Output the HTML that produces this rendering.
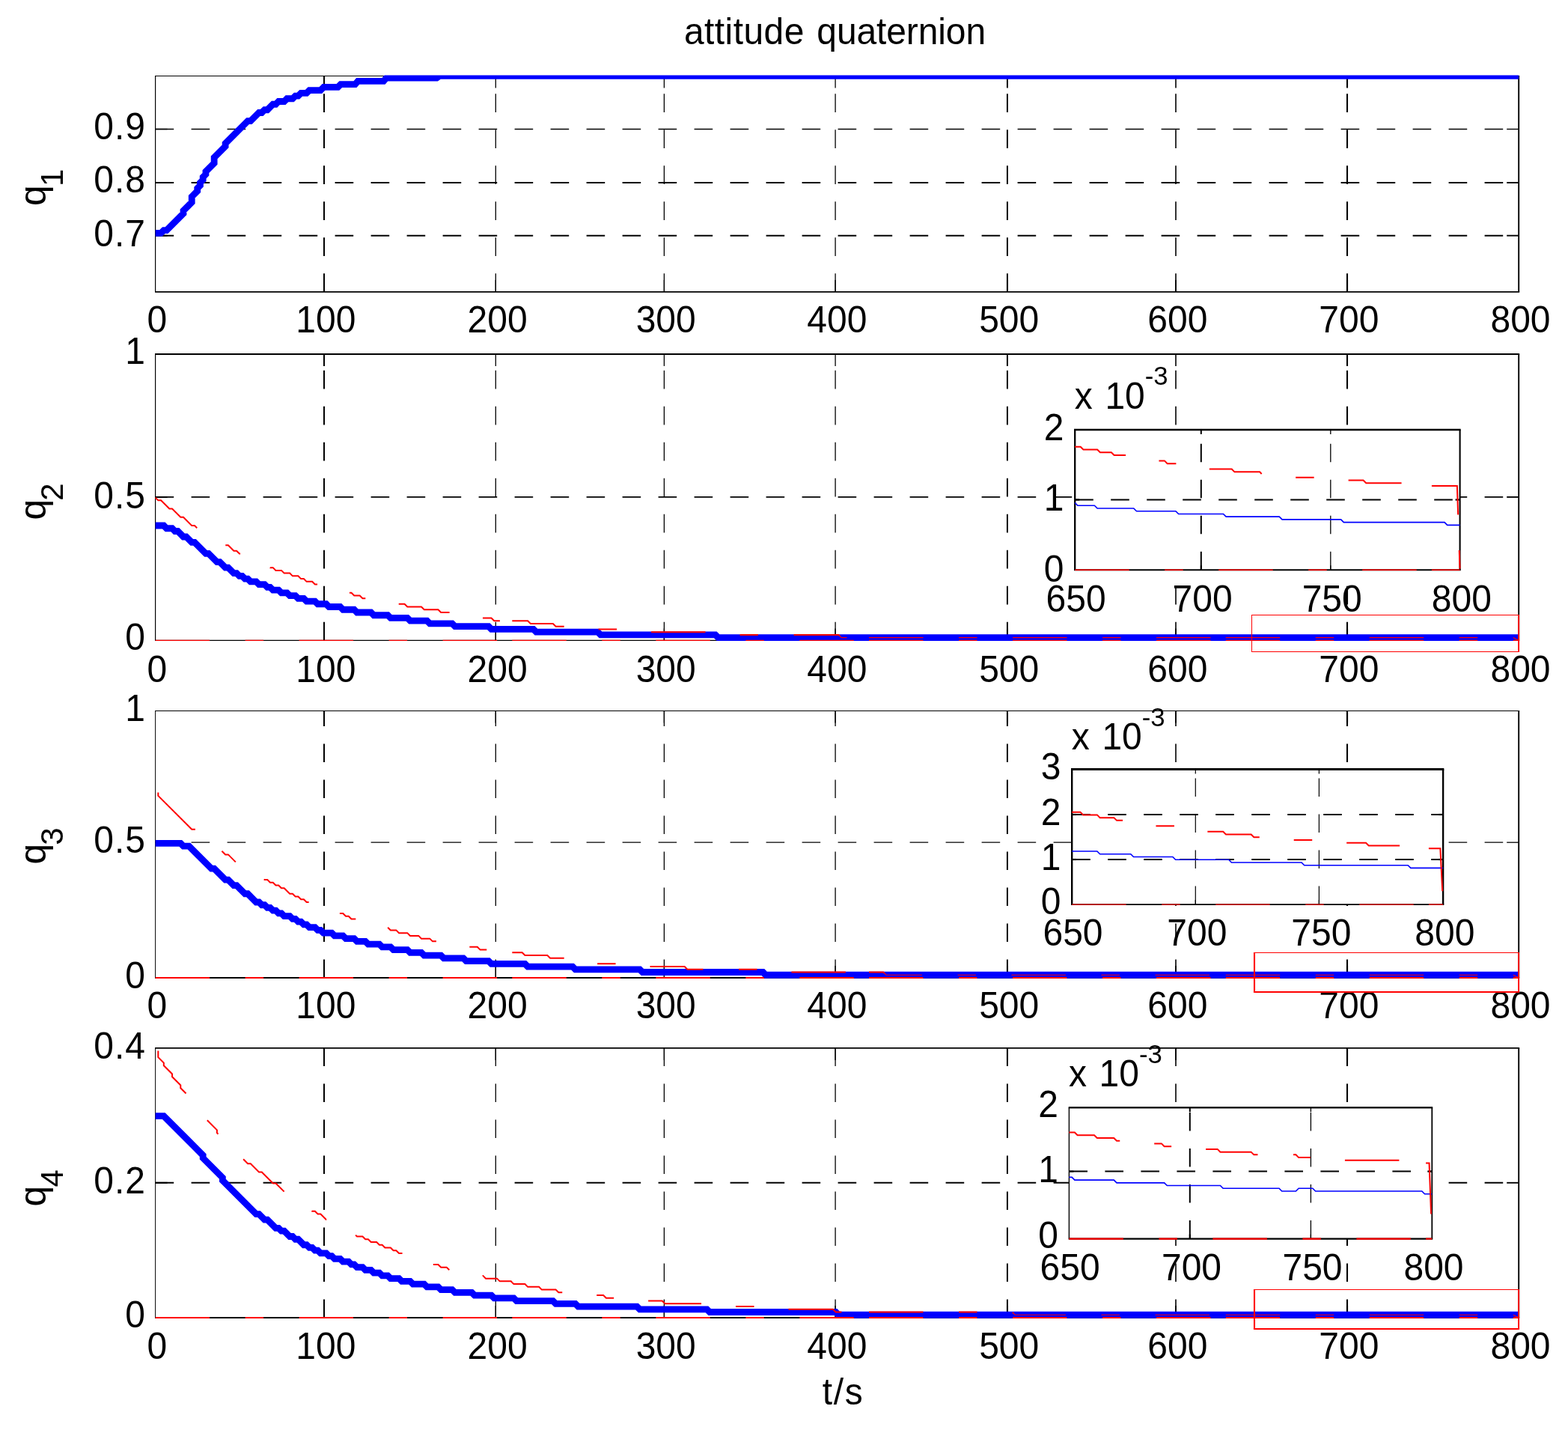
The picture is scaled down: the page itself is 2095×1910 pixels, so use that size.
<!DOCTYPE html>
<html lang="en">
<head>
<meta charset="utf-8">
<title>attitude quaternion</title>
<style>
html,body{margin:0;padding:0;background:#fff;}
body{width:2095px;height:1910px;overflow:hidden;}
svg{display:block;}
text{font-family:"Liberation Sans", Arial, Helvetica, sans-serif;}
</style>
</head>
<body>
<svg width="2095" height="1910" viewBox="0 0 2095 1910" font-family='"Liberation Sans", Arial, Helvetica, sans-serif' fill="#000" shape-rendering="geometricPrecision">
<rect width="2095" height="1910" fill="#fff"/>
<defs>
<clipPath id="c0"><rect x="206.6" y="100.5" width="1823.6" height="290.4"/></clipPath>
<clipPath id="cu0"><rect x="0" y="81.5" width="2095" height="302.79"/></clipPath>
<clipPath id="cl0"><rect x="0" y="384.29" width="2095" height="25.61"/></clipPath>
<clipPath id="c1"><rect x="206.6" y="471.95" width="1823.6" height="384.45"/></clipPath>
<clipPath id="cu1"><rect x="0" y="452.95" width="2095" height="396.84"/></clipPath>
<clipPath id="cl1"><rect x="0" y="849.79" width="2095" height="25.61"/></clipPath>
<clipPath id="ci1"><rect x="1435.2" y="572.9" width="516.4" height="189.4"/></clipPath>
<clipPath id="c2"><rect x="206.6" y="948.5" width="1823.6" height="358.5"/></clipPath>
<clipPath id="cu2"><rect x="0" y="929.5" width="2095" height="370.89"/></clipPath>
<clipPath id="cl2"><rect x="0" y="1300.39" width="2095" height="25.61"/></clipPath>
<clipPath id="ci2"><rect x="1431.2" y="1026.5" width="497.9" height="182.6"/></clipPath>
<clipPath id="c3"><rect x="206.6" y="1398.9" width="1823.6" height="362.1"/></clipPath>
<clipPath id="cu3"><rect x="0" y="1379.9" width="2095" height="374.49"/></clipPath>
<clipPath id="cl3"><rect x="0" y="1754.39" width="2095" height="25.61"/></clipPath>
<clipPath id="ci3"><rect x="1427.4" y="1478.3" width="486.9" height="177.3"/></clipPath>
</defs>
<text transform="translate(0 58.8) scale(0.964 1)" font-size="49.8"><tspan x="948.03" letter-spacing="0.45">attitude </tspan><tspan x="1132.05" letter-spacing="-0.12">quaternion</tspan></text>
<text transform="translate(1126.5 1875.9) scale(0.964 1)" font-size="49.8" text-anchor="middle" letter-spacing="1.7">t/s</text>
<g>
<line x1="433" y1="389.9" x2="433" y2="101.5" stroke="#000" stroke-width="2" stroke-dasharray="24.6 23.4"/>
<line x1="433" y1="101.5" x2="433" y2="117.5" stroke="#000" stroke-width="2"/>
<line x1="433" y1="389.9" x2="433" y2="373.9" stroke="#000" stroke-width="2"/>
<line x1="662.3" y1="389.9" x2="662.3" y2="101.5" stroke="#000" stroke-width="1.3" stroke-dasharray="24.6 23.4"/>
<line x1="662.3" y1="101.5" x2="662.3" y2="117.5" stroke="#000" stroke-width="1.3"/>
<line x1="662.3" y1="389.9" x2="662.3" y2="373.9" stroke="#000" stroke-width="1.3"/>
<line x1="887.4" y1="389.9" x2="887.4" y2="101.5" stroke="#000" stroke-width="1.3" stroke-dasharray="24.6 23.4"/>
<line x1="887.4" y1="101.5" x2="887.4" y2="117.5" stroke="#000" stroke-width="1.3"/>
<line x1="887.4" y1="389.9" x2="887.4" y2="373.9" stroke="#000" stroke-width="1.3"/>
<line x1="1116.1" y1="389.9" x2="1116.1" y2="101.5" stroke="#000" stroke-width="1.3" stroke-dasharray="24.6 23.4"/>
<line x1="1116.1" y1="101.5" x2="1116.1" y2="117.5" stroke="#000" stroke-width="1.3"/>
<line x1="1116.1" y1="389.9" x2="1116.1" y2="373.9" stroke="#000" stroke-width="1.3"/>
<line x1="1345.9" y1="389.9" x2="1345.9" y2="101.5" stroke="#000" stroke-width="1.9" stroke-dasharray="24.6 23.4"/>
<line x1="1345.9" y1="101.5" x2="1345.9" y2="117.5" stroke="#000" stroke-width="1.9"/>
<line x1="1345.9" y1="389.9" x2="1345.9" y2="373.9" stroke="#000" stroke-width="1.9"/>
<line x1="1571" y1="389.9" x2="1571" y2="101.5" stroke="#000" stroke-width="1.6" stroke-dasharray="24.6 23.4"/>
<line x1="1571" y1="101.5" x2="1571" y2="117.5" stroke="#000" stroke-width="1.6"/>
<line x1="1571" y1="389.9" x2="1571" y2="373.9" stroke="#000" stroke-width="1.6"/>
<line x1="1800" y1="389.9" x2="1800" y2="101.5" stroke="#000" stroke-width="2.1" stroke-dasharray="24.6 23.4"/>
<line x1="1800" y1="101.5" x2="1800" y2="117.5" stroke="#000" stroke-width="2.1"/>
<line x1="1800" y1="389.9" x2="1800" y2="373.9" stroke="#000" stroke-width="2.1"/>
<line x1="207.6" y1="172.5" x2="2029.2" y2="172.5" stroke="#000" stroke-width="1.4" stroke-dasharray="24.6 23.4"/>
<line x1="207.6" y1="172.5" x2="223.6" y2="172.5" stroke="#000" stroke-width="1.4"/>
<line x1="2029.2" y1="172.5" x2="2013.2" y2="172.5" stroke="#000" stroke-width="1.4"/>
<line x1="207.6" y1="244" x2="2029.2" y2="244" stroke="#000" stroke-width="1.9" stroke-dasharray="24.6 23.4"/>
<line x1="207.6" y1="244" x2="223.6" y2="244" stroke="#000" stroke-width="1.9"/>
<line x1="2029.2" y1="244" x2="2013.2" y2="244" stroke="#000" stroke-width="1.9"/>
<line x1="207.6" y1="314.7" x2="2029.2" y2="314.7" stroke="#000" stroke-width="1.9" stroke-dasharray="24.6 23.4"/>
<line x1="207.6" y1="314.7" x2="223.6" y2="314.7" stroke="#000" stroke-width="1.9"/>
<line x1="2029.2" y1="314.7" x2="2013.2" y2="314.7" stroke="#000" stroke-width="1.9"/>
<line x1="207" y1="101.5" x2="2030.15" y2="101.5" stroke="#000" stroke-width="1.2"/>
<line x1="207" y1="389.9" x2="2030.15" y2="389.9" stroke="#000" stroke-width="1.85"/>
<line x1="207.6" y1="101.5" x2="207.6" y2="389.9" stroke="#000" stroke-width="1.2"/>
<line x1="2029.2" y1="101.5" x2="2029.2" y2="389.9" stroke="#000" stroke-width="1.9"/>
<text transform="translate(209.9 444.2) scale(0.964 1)" font-size="49.8" text-anchor="middle">0</text>
<text transform="translate(435.3 444.2) scale(0.964 1)" font-size="49.8" text-anchor="middle">100</text>
<text transform="translate(664.6 444.2) scale(0.964 1)" font-size="49.8" text-anchor="middle">200</text>
<text transform="translate(889.7 444.2) scale(0.964 1)" font-size="49.8" text-anchor="middle">300</text>
<text transform="translate(1118.4 444.2) scale(0.964 1)" font-size="49.8" text-anchor="middle">400</text>
<text transform="translate(1348.2 444.2) scale(0.964 1)" font-size="49.8" text-anchor="middle">500</text>
<text transform="translate(1573.3 444.2) scale(0.964 1)" font-size="49.8" text-anchor="middle">600</text>
<text transform="translate(1802.3 444.2) scale(0.964 1)" font-size="49.8" text-anchor="middle">700</text>
<text transform="translate(2031.5 444.2) scale(0.964 1)" font-size="49.8" text-anchor="middle">800</text>
<text transform="translate(195.06 185.5) scale(0.964 1)" font-size="49.8" text-anchor="end" letter-spacing="1.1">0.9</text>
<text transform="translate(195.06 257.2) scale(0.964 1)" font-size="49.8" text-anchor="end" letter-spacing="1.1">0.8</text>
<text transform="translate(195.06 328.6) scale(0.964 1)" font-size="49.8" text-anchor="end" letter-spacing="1.1">0.7</text>
<text transform="translate(60.5 275) rotate(-90)" font-size="49.8">q<tspan dx="-1.8" dy="23.6" font-size="42">1</tspan></text>
<path d="M207.6 311.34 L215.08 311.34 L218.82 307.6 L222.56 307.6 L245.01 285.15 L245.01 281.41 L256.23 270.19 L256.23 262.71 L263.71 255.22 L263.71 251.48 L267.46 247.74 L267.46 244 L271.2 240.26 L271.2 236.52 L274.94 232.78 L274.94 229.04 L286.16 217.81 L286.16 210.33 L301.12 195.37 L301.12 191.63 L331.05 161.7 L334.79 161.7 L346.02 150.48 L349.76 150.48 L353.5 146.73 L357.24 146.73 L364.72 139.25 L368.46 139.25 L372.2 135.51 L379.69 135.51 L383.43 131.77 L390.91 131.77 L394.65 128.03 L398.39 128.03 L402.13 124.29 L409.61 124.29 L413.36 120.55 L428.32 120.55 L432.06 116.81 L432.5 116.3 L451.5 116.3 L455.2 112.6 L474.5 112.6 L478.2 108.4 L512.5 108.4 L516.2 104.1 L583.5 104.1 L587.2 101.4 L2029.2 101.4" fill="none" stroke="#00f" stroke-width="8.8" stroke-linejoin="miter" clip-path="url(#c0)"/>
</g>
<g>
<line x1="433" y1="855.4" x2="433" y2="472.95" stroke="#000" stroke-width="2" stroke-dasharray="24.6 23.4"/>
<line x1="433" y1="472.95" x2="433" y2="488.95" stroke="#000" stroke-width="2"/>
<line x1="433" y1="855.4" x2="433" y2="839.4" stroke="#000" stroke-width="2"/>
<line x1="662.3" y1="855.4" x2="662.3" y2="472.95" stroke="#000" stroke-width="1.3" stroke-dasharray="24.6 23.4"/>
<line x1="662.3" y1="472.95" x2="662.3" y2="488.95" stroke="#000" stroke-width="1.3"/>
<line x1="662.3" y1="855.4" x2="662.3" y2="839.4" stroke="#000" stroke-width="1.3"/>
<line x1="887.4" y1="855.4" x2="887.4" y2="472.95" stroke="#000" stroke-width="1.3" stroke-dasharray="24.6 23.4"/>
<line x1="887.4" y1="472.95" x2="887.4" y2="488.95" stroke="#000" stroke-width="1.3"/>
<line x1="887.4" y1="855.4" x2="887.4" y2="839.4" stroke="#000" stroke-width="1.3"/>
<line x1="1116.1" y1="855.4" x2="1116.1" y2="472.95" stroke="#000" stroke-width="1.3" stroke-dasharray="24.6 23.4"/>
<line x1="1116.1" y1="472.95" x2="1116.1" y2="488.95" stroke="#000" stroke-width="1.3"/>
<line x1="1116.1" y1="855.4" x2="1116.1" y2="839.4" stroke="#000" stroke-width="1.3"/>
<line x1="1345.9" y1="855.4" x2="1345.9" y2="472.95" stroke="#000" stroke-width="1.9" stroke-dasharray="24.6 23.4"/>
<line x1="1345.9" y1="472.95" x2="1345.9" y2="488.95" stroke="#000" stroke-width="1.9"/>
<line x1="1345.9" y1="855.4" x2="1345.9" y2="839.4" stroke="#000" stroke-width="1.9"/>
<line x1="1571" y1="855.4" x2="1571" y2="472.95" stroke="#000" stroke-width="1.6" stroke-dasharray="24.6 23.4"/>
<line x1="1571" y1="472.95" x2="1571" y2="488.95" stroke="#000" stroke-width="1.6"/>
<line x1="1571" y1="855.4" x2="1571" y2="839.4" stroke="#000" stroke-width="1.6"/>
<line x1="1800" y1="855.4" x2="1800" y2="472.95" stroke="#000" stroke-width="2.1" stroke-dasharray="24.6 23.4"/>
<line x1="1800" y1="472.95" x2="1800" y2="488.95" stroke="#000" stroke-width="2.1"/>
<line x1="1800" y1="855.4" x2="1800" y2="839.4" stroke="#000" stroke-width="2.1"/>
<line x1="207.6" y1="663.9" x2="2029.2" y2="663.9" stroke="#000" stroke-width="1.9" stroke-dasharray="24.6 23.4"/>
<line x1="207.6" y1="663.9" x2="223.6" y2="663.9" stroke="#000" stroke-width="1.9"/>
<line x1="2029.2" y1="663.9" x2="2013.2" y2="663.9" stroke="#000" stroke-width="1.9"/>
<line x1="207" y1="472.95" x2="2030.15" y2="472.95" stroke="#000" stroke-width="2"/>
<line x1="207" y1="855.4" x2="2030.15" y2="855.4" stroke="#000" stroke-width="1.3"/>
<line x1="207.6" y1="472.95" x2="207.6" y2="855.4" stroke="#000" stroke-width="1.2"/>
<line x1="2029.2" y1="472.95" x2="2029.2" y2="855.4" stroke="#000" stroke-width="1.9"/>
<text transform="translate(209.9 910.5) scale(0.964 1)" font-size="49.8" text-anchor="middle">0</text>
<text transform="translate(435.3 910.5) scale(0.964 1)" font-size="49.8" text-anchor="middle">100</text>
<text transform="translate(664.6 910.5) scale(0.964 1)" font-size="49.8" text-anchor="middle">200</text>
<text transform="translate(889.7 910.5) scale(0.964 1)" font-size="49.8" text-anchor="middle">300</text>
<text transform="translate(1118.4 910.5) scale(0.964 1)" font-size="49.8" text-anchor="middle">400</text>
<text transform="translate(1348.2 910.5) scale(0.964 1)" font-size="49.8" text-anchor="middle">500</text>
<text transform="translate(1573.3 910.5) scale(0.964 1)" font-size="49.8" text-anchor="middle">600</text>
<text transform="translate(1802.3 910.5) scale(0.964 1)" font-size="49.8" text-anchor="middle">700</text>
<text transform="translate(2031.5 910.5) scale(0.964 1)" font-size="49.8" text-anchor="middle">800</text>
<text transform="translate(194 486.2) scale(0.964 1)" font-size="49.8" text-anchor="end">1</text>
<text transform="translate(195.06 678.6) scale(0.964 1)" font-size="49.8" text-anchor="end" letter-spacing="1.1">0.5</text>
<text transform="translate(194 868.3) scale(0.964 1)" font-size="49.8" text-anchor="end">0</text>
<text transform="translate(60.5 694.6) rotate(-90)" font-size="49.8">q<tspan dx="-1.8" dy="23.6" font-size="42">2</tspan></text>
<path d="M207.6 702.02 L218.82 702.02 L222.56 705.76 L230.05 705.76 L233.79 709.5 L237.53 709.5 L245.01 716.98 L248.75 716.98 L256.23 724.46 L259.97 724.46 L274.94 739.43 L278.68 739.43 L289.9 750.65 L293.64 750.65 L301.12 758.13 L304.87 758.13 L312.35 765.62 L316.09 765.62 L319.83 769.36 L323.57 769.36 L327.31 773.1 L331.05 773.1 L334.79 776.84 L342.28 776.84 L346.02 780.58 L353.5 780.58 L357.24 784.32 L360.98 784.32 L364.72 788.06 L372.2 788.06 L375.94 791.8 L383.43 791.8 L387.17 795.54 L394.65 795.54 L398.39 799.28 L405.87 799.28 L409.61 803.03 L420.84 803.03 L424.58 806.77 L435.8 806.77 L439.54 810.51 L454.51 810.51 L458.25 814.25 L473.21 814.25 L476.95 817.99 L495.66 817.99 L499.4 821.73 L518.1 821.73 L521.84 825.47 L544.29 825.47 L548.03 829.21 L570.48 829.21 L574.22 832.95 L604.15 832.95 L607.89 836.69 L652.78 836.69 L656.52 840.44 L712.63 840.44 L716.38 844.18 L798.68 844.18 L802.42 847.92 L955.8 847.92 L959.54 851.66 L2029.2 851.66" fill="none" stroke="#00f" stroke-width="8.8" stroke-linejoin="miter" clip-path="url(#c1)"/>
<line x1="207.6" y1="855.4" x2="684.3" y2="855.4" stroke="#f00" stroke-width="1.3" stroke-dasharray="72.5 47.5 24.5 47.5"/>
<line x1="684.3" y1="855.4" x2="1161" y2="855.4" stroke="#f00" stroke-width="1.3" stroke-dasharray="72.5 47.5 24.5 47.5"/>
<line x1="1161" y1="855.4" x2="1637.7" y2="855.4" stroke="#f00" stroke-width="1.3" stroke-dasharray="72.5 47.5 24.5 47.5"/>
<line x1="1637.7" y1="855.4" x2="2029.2" y2="855.4" stroke="#f00" stroke-width="1.3" stroke-dasharray="72.5 47.5 24.5 47.5"/>
<path d="M207.6 664.61 L211.34 668.35 L215.08 668.35 L226.31 679.57 L230.05 679.57 L241.27 690.8 L245.01 690.8 L256.23 702.02 L259.97 702.02 L267.46 709.5 L271.2 709.5 L274.94 713.24 L278.68 713.24 L282.42 716.98 L286.16 716.98 L293.64 724.46 L297.38 724.46 L301.12 728.21 L304.87 728.21 L312.35 735.69 L316.09 735.69 L319.83 739.43 L323.57 739.43 L327.31 743.17 L331.05 743.17 L334.79 746.91 L338.53 746.91 L342.28 750.65 L346.02 750.65 L349.76 754.39 L357.24 754.39 L360.98 758.13 L364.72 758.13 L368.46 761.88 L375.94 761.88 L379.69 765.62 L387.17 765.62 L390.91 769.36 L398.39 769.36 L402.13 773.1 L405.87 773.1 L409.61 776.84 L417.1 776.84 L420.84 780.58 L428.32 780.58 L432.06 784.32 L443.28 784.32 L447.02 788.06 L458.25 788.06 L461.99 791.8 L469.47 791.8 L473.21 795.54 L480.69 795.54 L484.43 799.28 L499.4 799.28 L503.14 803.03 L518.1 803.03 L521.84 806.77 L540.55 806.77 L544.29 810.51 L563 810.51 L566.74 814.25 L585.44 814.25 L589.18 817.99 L607.89 817.99 L611.63 821.73 L634.07 821.73 L637.82 825.47 L656.52 825.47 L660.26 829.21 L684.3 829.21" fill="none" stroke="#f00" stroke-width="2" stroke-dasharray="72.5 47.5 24.5 47.5" clip-path="url(#cu1)"/>
<path d="M207.6 664.61 L211.34 668.35 L215.08 668.35 L226.31 679.57 L230.05 679.57 L241.27 690.8 L245.01 690.8 L256.23 702.02 L259.97 702.02 L267.46 709.5 L271.2 709.5 L274.94 713.24 L278.68 713.24 L282.42 716.98 L286.16 716.98 L293.64 724.46 L297.38 724.46 L301.12 728.21 L304.87 728.21 L312.35 735.69 L316.09 735.69 L319.83 739.43 L323.57 739.43 L327.31 743.17 L331.05 743.17 L334.79 746.91 L338.53 746.91 L342.28 750.65 L346.02 750.65 L349.76 754.39 L357.24 754.39 L360.98 758.13 L364.72 758.13 L368.46 761.88 L375.94 761.88 L379.69 765.62 L387.17 765.62 L390.91 769.36 L398.39 769.36 L402.13 773.1 L405.87 773.1 L409.61 776.84 L417.1 776.84 L420.84 780.58 L428.32 780.58 L432.06 784.32 L443.28 784.32 L447.02 788.06 L458.25 788.06 L461.99 791.8 L469.47 791.8 L473.21 795.54 L480.69 795.54 L484.43 799.28 L499.4 799.28 L503.14 803.03 L518.1 803.03 L521.84 806.77 L540.55 806.77 L544.29 810.51 L563 810.51 L566.74 814.25 L585.44 814.25 L589.18 817.99 L607.89 817.99 L611.63 821.73 L634.07 821.73 L637.82 825.47 L656.52 825.47 L660.26 829.21 L684.3 829.21" fill="none" stroke="#f00" stroke-width="1.1" stroke-dasharray="72.5 47.5 24.5 47.5" clip-path="url(#cl1)"/>
<path d="M684.3 829.21 L705.15 829.21 L708.89 832.95 L738.82 832.95 L742.56 836.69 L776.23 836.69 L779.97 840.44 L843.57 840.44 L847.31 844.18 L963.28 844.18 L967.02 847.92 L1120.4 847.92 L1124.14 851.66 L1161 851.66" fill="none" stroke="#f00" stroke-width="2" stroke-dasharray="72.5 47.5 24.5 47.5" clip-path="url(#cu1)"/>
<path d="M684.3 829.21 L705.15 829.21 L708.89 832.95 L738.82 832.95 L742.56 836.69 L776.23 836.69 L779.97 840.44 L843.57 840.44 L847.31 844.18 L963.28 844.18 L967.02 847.92 L1120.4 847.92 L1124.14 851.66 L1161 851.66" fill="none" stroke="#f00" stroke-width="1.1" stroke-dasharray="72.5 47.5 24.5 47.5" clip-path="url(#cl1)"/>
<path d="M1161 851.66 L1637.7 851.66" fill="none" stroke="#f00" stroke-width="2" stroke-dasharray="72.5 47.5 24.5 47.5" clip-path="url(#cu1)"/>
<path d="M1161 851.66 L1637.7 851.66" fill="none" stroke="#f00" stroke-width="1.1" stroke-dasharray="72.5 47.5 24.5 47.5" clip-path="url(#cl1)"/>
<path d="M1637.7 851.66 L2021.98 851.66 L2029.2 855.4" fill="none" stroke="#f00" stroke-width="2" stroke-dasharray="72.5 47.5 24.5 47.5" clip-path="url(#cu1)"/>
<path d="M1637.7 851.66 L2021.98 851.66 L2029.2 855.4" fill="none" stroke="#f00" stroke-width="1.1" stroke-dasharray="72.5 47.5 24.5 47.5" clip-path="url(#cl1)"/>
</g>
<g>
<line x1="433" y1="1306" x2="433" y2="949.5" stroke="#000" stroke-width="2" stroke-dasharray="24.6 23.4"/>
<line x1="433" y1="949.5" x2="433" y2="965.5" stroke="#000" stroke-width="2"/>
<line x1="433" y1="1306" x2="433" y2="1290" stroke="#000" stroke-width="2"/>
<line x1="662.3" y1="1306" x2="662.3" y2="949.5" stroke="#000" stroke-width="1.3" stroke-dasharray="24.6 23.4"/>
<line x1="662.3" y1="949.5" x2="662.3" y2="965.5" stroke="#000" stroke-width="1.3"/>
<line x1="662.3" y1="1306" x2="662.3" y2="1290" stroke="#000" stroke-width="1.3"/>
<line x1="887.4" y1="1306" x2="887.4" y2="949.5" stroke="#000" stroke-width="1.3" stroke-dasharray="24.6 23.4"/>
<line x1="887.4" y1="949.5" x2="887.4" y2="965.5" stroke="#000" stroke-width="1.3"/>
<line x1="887.4" y1="1306" x2="887.4" y2="1290" stroke="#000" stroke-width="1.3"/>
<line x1="1116.1" y1="1306" x2="1116.1" y2="949.5" stroke="#000" stroke-width="1.3" stroke-dasharray="24.6 23.4"/>
<line x1="1116.1" y1="949.5" x2="1116.1" y2="965.5" stroke="#000" stroke-width="1.3"/>
<line x1="1116.1" y1="1306" x2="1116.1" y2="1290" stroke="#000" stroke-width="1.3"/>
<line x1="1345.9" y1="1306" x2="1345.9" y2="949.5" stroke="#000" stroke-width="1.9" stroke-dasharray="24.6 23.4"/>
<line x1="1345.9" y1="949.5" x2="1345.9" y2="965.5" stroke="#000" stroke-width="1.9"/>
<line x1="1345.9" y1="1306" x2="1345.9" y2="1290" stroke="#000" stroke-width="1.9"/>
<line x1="1571" y1="1306" x2="1571" y2="949.5" stroke="#000" stroke-width="1.6" stroke-dasharray="24.6 23.4"/>
<line x1="1571" y1="949.5" x2="1571" y2="965.5" stroke="#000" stroke-width="1.6"/>
<line x1="1571" y1="1306" x2="1571" y2="1290" stroke="#000" stroke-width="1.6"/>
<line x1="1800" y1="1306" x2="1800" y2="949.5" stroke="#000" stroke-width="2.1" stroke-dasharray="24.6 23.4"/>
<line x1="1800" y1="949.5" x2="1800" y2="965.5" stroke="#000" stroke-width="2.1"/>
<line x1="1800" y1="1306" x2="1800" y2="1290" stroke="#000" stroke-width="2.1"/>
<line x1="207.6" y1="1125.2" x2="2029.2" y2="1125.2" stroke="#000" stroke-width="1.3" stroke-dasharray="24.6 23.4"/>
<line x1="207.6" y1="1125.2" x2="223.6" y2="1125.2" stroke="#000" stroke-width="1.3"/>
<line x1="2029.2" y1="1125.2" x2="2013.2" y2="1125.2" stroke="#000" stroke-width="1.3"/>
<line x1="207.1" y1="949.5" x2="2030.15" y2="949.5" stroke="#000" stroke-width="1.2"/>
<line x1="207.1" y1="1306" x2="2030.15" y2="1306" stroke="#000" stroke-width="2.1"/>
<line x1="207.6" y1="949.5" x2="207.6" y2="1306" stroke="#000" stroke-width="1"/>
<line x1="2029.2" y1="949.5" x2="2029.2" y2="1306" stroke="#000" stroke-width="1.9"/>
<text transform="translate(209.9 1359.7) scale(0.964 1)" font-size="49.8" text-anchor="middle">0</text>
<text transform="translate(435.3 1359.7) scale(0.964 1)" font-size="49.8" text-anchor="middle">100</text>
<text transform="translate(664.6 1359.7) scale(0.964 1)" font-size="49.8" text-anchor="middle">200</text>
<text transform="translate(889.7 1359.7) scale(0.964 1)" font-size="49.8" text-anchor="middle">300</text>
<text transform="translate(1118.4 1359.7) scale(0.964 1)" font-size="49.8" text-anchor="middle">400</text>
<text transform="translate(1348.2 1359.7) scale(0.964 1)" font-size="49.8" text-anchor="middle">500</text>
<text transform="translate(1573.3 1359.7) scale(0.964 1)" font-size="49.8" text-anchor="middle">600</text>
<text transform="translate(1802.3 1359.7) scale(0.964 1)" font-size="49.8" text-anchor="middle">700</text>
<text transform="translate(2031.5 1359.7) scale(0.964 1)" font-size="49.8" text-anchor="middle">800</text>
<text transform="translate(194 962.9) scale(0.964 1)" font-size="49.8" text-anchor="end">1</text>
<text transform="translate(195.06 1139.4) scale(0.964 1)" font-size="49.8" text-anchor="end" letter-spacing="1.1">0.5</text>
<text transform="translate(194 1319.5) scale(0.964 1)" font-size="49.8" text-anchor="end">0</text>
<text transform="translate(60.5 1154.6) rotate(-90)" font-size="49.8">q<tspan dx="-1.8" dy="23.6" font-size="42">3</tspan></text>
<path d="M207.6 1126.43 L241.27 1126.43 L245.01 1130.17 L252.49 1130.17 L282.42 1160.1 L286.16 1160.1 L301.12 1175.07 L304.87 1175.07 L312.35 1182.55 L316.09 1182.55 L327.31 1193.77 L331.05 1193.77 L342.28 1204.99 L346.02 1204.99 L349.76 1208.73 L353.5 1208.73 L357.24 1212.47 L360.98 1212.47 L364.72 1216.22 L368.46 1216.22 L372.2 1219.96 L375.94 1219.96 L379.69 1223.7 L387.17 1223.7 L390.91 1227.44 L394.65 1227.44 L398.39 1231.18 L402.13 1231.18 L405.87 1234.92 L409.61 1234.92 L413.36 1238.66 L420.84 1238.66 L424.58 1242.4 L428.32 1242.4 L432.06 1246.14 L443.28 1246.14 L447.02 1249.88 L458.25 1249.88 L461.99 1253.63 L473.21 1253.63 L476.95 1257.37 L488.17 1257.37 L491.92 1261.11 L506.88 1261.11 L510.62 1264.85 L521.84 1264.85 L525.59 1268.59 L544.29 1268.59 L548.03 1272.33 L563 1272.33 L566.74 1276.07 L589.18 1276.07 L592.92 1279.81 L619.11 1279.81 L622.85 1283.55 L652.78 1283.55 L656.52 1287.3 L701.41 1287.3 L705.15 1291.04 L765.01 1291.04 L768.75 1294.78 L854.79 1294.78 L858.53 1298.52 L1019.4 1298.52 L1023.14 1302.26 L2029.2 1302.26" fill="none" stroke="#00f" stroke-width="8.8" stroke-linejoin="miter" clip-path="url(#c2)"/>
<line x1="207.6" y1="1306" x2="684.3" y2="1306" stroke="#f00" stroke-width="1.9" stroke-dasharray="72.5 47.5 24.5 47.5"/>
<line x1="684.3" y1="1306" x2="1161" y2="1306" stroke="#f00" stroke-width="1.9" stroke-dasharray="72.5 47.5 24.5 47.5"/>
<line x1="1161" y1="1306" x2="1637.7" y2="1306" stroke="#f00" stroke-width="1.9" stroke-dasharray="72.5 47.5 24.5 47.5"/>
<line x1="1637.7" y1="1306" x2="2029.2" y2="1306" stroke="#f00" stroke-width="1.9" stroke-dasharray="72.5 47.5 24.5 47.5"/>
<path d="M211.34 1058.5 L211.34 1062.84 L256.23 1107.73 L263.71 1107.73 L282.42 1126.43 L286.16 1126.43 L301.12 1141.4 L304.87 1141.4 L316.09 1152.62 L319.83 1152.62 L323.57 1156.36 L327.31 1156.36 L334.79 1163.84 L338.53 1163.84 L342.28 1167.58 L346.02 1167.58 L353.5 1175.07 L357.24 1175.07 L360.98 1178.81 L364.72 1178.81 L368.46 1182.55 L372.2 1182.55 L375.94 1186.29 L379.69 1186.29 L387.17 1193.77 L390.91 1193.77 L394.65 1197.51 L398.39 1197.51 L402.13 1201.25 L405.87 1201.25 L409.61 1204.99 L413.36 1204.99 L417.1 1208.73 L424.58 1208.73 L428.32 1212.47 L435.8 1212.47 L439.54 1216.22 L447.02 1216.22 L450.76 1219.96 L458.25 1219.96 L461.99 1223.7 L465.73 1223.7 L469.47 1227.44 L476.95 1227.44 L480.69 1231.18 L491.92 1231.18 L495.66 1234.92 L503.14 1234.92 L506.88 1238.66 L518.1 1238.66 L521.84 1242.4 L529.33 1242.4 L533.07 1246.14 L544.29 1246.14 L548.03 1249.88 L559.25 1249.88 L563 1253.63 L574.22 1253.63 L577.96 1257.37 L592.92 1257.37 L596.66 1261.11 L615.37 1261.11 L619.11 1264.85 L637.82 1264.85 L641.56 1268.59 L667.74 1268.59 L671.48 1272.33 L684.3 1272.33" fill="none" stroke="#f00" stroke-width="2" stroke-dasharray="72.5 47.5 24.5 47.5" clip-path="url(#cu2)"/>
<path d="M211.34 1058.5 L211.34 1062.84 L256.23 1107.73 L263.71 1107.73 L282.42 1126.43 L286.16 1126.43 L301.12 1141.4 L304.87 1141.4 L316.09 1152.62 L319.83 1152.62 L323.57 1156.36 L327.31 1156.36 L334.79 1163.84 L338.53 1163.84 L342.28 1167.58 L346.02 1167.58 L353.5 1175.07 L357.24 1175.07 L360.98 1178.81 L364.72 1178.81 L368.46 1182.55 L372.2 1182.55 L375.94 1186.29 L379.69 1186.29 L387.17 1193.77 L390.91 1193.77 L394.65 1197.51 L398.39 1197.51 L402.13 1201.25 L405.87 1201.25 L409.61 1204.99 L413.36 1204.99 L417.1 1208.73 L424.58 1208.73 L428.32 1212.47 L435.8 1212.47 L439.54 1216.22 L447.02 1216.22 L450.76 1219.96 L458.25 1219.96 L461.99 1223.7 L465.73 1223.7 L469.47 1227.44 L476.95 1227.44 L480.69 1231.18 L491.92 1231.18 L495.66 1234.92 L503.14 1234.92 L506.88 1238.66 L518.1 1238.66 L521.84 1242.4 L529.33 1242.4 L533.07 1246.14 L544.29 1246.14 L548.03 1249.88 L559.25 1249.88 L563 1253.63 L574.22 1253.63 L577.96 1257.37 L592.92 1257.37 L596.66 1261.11 L615.37 1261.11 L619.11 1264.85 L637.82 1264.85 L641.56 1268.59 L667.74 1268.59 L671.48 1272.33 L684.3 1272.33" fill="none" stroke="#f00" stroke-width="1.1" stroke-dasharray="72.5 47.5 24.5 47.5" clip-path="url(#cl2)"/>
<path d="M684.3 1272.33 L697.67 1272.33 L701.41 1276.07 L731.34 1276.07 L735.08 1279.81 L761.27 1279.81 L765.01 1283.55 L783.71 1283.55 L787.46 1287.3 L843.57 1287.3 L847.31 1291.04 L914.65 1291.04 L918.39 1294.78 L1041.84 1294.78 L1045.58 1298.52 L1161 1298.52" fill="none" stroke="#f00" stroke-width="2" stroke-dasharray="72.5 47.5 24.5 47.5" clip-path="url(#cu2)"/>
<path d="M684.3 1272.33 L697.67 1272.33 L701.41 1276.07 L731.34 1276.07 L735.08 1279.81 L761.27 1279.81 L765.01 1283.55 L783.71 1283.55 L787.46 1287.3 L843.57 1287.3 L847.31 1291.04 L914.65 1291.04 L918.39 1294.78 L1041.84 1294.78 L1045.58 1298.52 L1161 1298.52" fill="none" stroke="#f00" stroke-width="1.1" stroke-dasharray="72.5 47.5 24.5 47.5" clip-path="url(#cl2)"/>
<path d="M1161 1298.52 L1180.26 1298.52 L1184 1302.26 L1637.7 1302.26" fill="none" stroke="#f00" stroke-width="2" stroke-dasharray="72.5 47.5 24.5 47.5" clip-path="url(#cu2)"/>
<path d="M1161 1298.52 L1180.26 1298.52 L1184 1302.26 L1637.7 1302.26" fill="none" stroke="#f00" stroke-width="1.1" stroke-dasharray="72.5 47.5 24.5 47.5" clip-path="url(#cl2)"/>
<path d="M1637.7 1302.26 L2021.98 1302.26 L2029.2 1306" fill="none" stroke="#f00" stroke-width="2" stroke-dasharray="72.5 47.5 24.5 47.5" clip-path="url(#cu2)"/>
<path d="M1637.7 1302.26 L2021.98 1302.26 L2029.2 1306" fill="none" stroke="#f00" stroke-width="1.1" stroke-dasharray="72.5 47.5 24.5 47.5" clip-path="url(#cl2)"/>
</g>
<g>
<line x1="433" y1="1760" x2="433" y2="1399.9" stroke="#000" stroke-width="2" stroke-dasharray="24.6 23.4"/>
<line x1="433" y1="1399.9" x2="433" y2="1415.9" stroke="#000" stroke-width="2"/>
<line x1="433" y1="1760" x2="433" y2="1744" stroke="#000" stroke-width="2"/>
<line x1="662.3" y1="1760" x2="662.3" y2="1399.9" stroke="#000" stroke-width="1.3" stroke-dasharray="24.6 23.4"/>
<line x1="662.3" y1="1399.9" x2="662.3" y2="1415.9" stroke="#000" stroke-width="1.3"/>
<line x1="662.3" y1="1760" x2="662.3" y2="1744" stroke="#000" stroke-width="1.3"/>
<line x1="887.4" y1="1760" x2="887.4" y2="1399.9" stroke="#000" stroke-width="1.3" stroke-dasharray="24.6 23.4"/>
<line x1="887.4" y1="1399.9" x2="887.4" y2="1415.9" stroke="#000" stroke-width="1.3"/>
<line x1="887.4" y1="1760" x2="887.4" y2="1744" stroke="#000" stroke-width="1.3"/>
<line x1="1116.1" y1="1760" x2="1116.1" y2="1399.9" stroke="#000" stroke-width="1.3" stroke-dasharray="24.6 23.4"/>
<line x1="1116.1" y1="1399.9" x2="1116.1" y2="1415.9" stroke="#000" stroke-width="1.3"/>
<line x1="1116.1" y1="1760" x2="1116.1" y2="1744" stroke="#000" stroke-width="1.3"/>
<line x1="1345.9" y1="1760" x2="1345.9" y2="1399.9" stroke="#000" stroke-width="1.9" stroke-dasharray="24.6 23.4"/>
<line x1="1345.9" y1="1399.9" x2="1345.9" y2="1415.9" stroke="#000" stroke-width="1.9"/>
<line x1="1345.9" y1="1760" x2="1345.9" y2="1744" stroke="#000" stroke-width="1.9"/>
<line x1="1571" y1="1760" x2="1571" y2="1399.9" stroke="#000" stroke-width="1.6" stroke-dasharray="24.6 23.4"/>
<line x1="1571" y1="1399.9" x2="1571" y2="1415.9" stroke="#000" stroke-width="1.6"/>
<line x1="1571" y1="1760" x2="1571" y2="1744" stroke="#000" stroke-width="1.6"/>
<line x1="1800" y1="1760" x2="1800" y2="1399.9" stroke="#000" stroke-width="2.1" stroke-dasharray="24.6 23.4"/>
<line x1="1800" y1="1399.9" x2="1800" y2="1415.9" stroke="#000" stroke-width="2.1"/>
<line x1="1800" y1="1760" x2="1800" y2="1744" stroke="#000" stroke-width="2.1"/>
<line x1="207.6" y1="1579.8" x2="2029.2" y2="1579.8" stroke="#000" stroke-width="1.9" stroke-dasharray="24.6 23.4"/>
<line x1="207.6" y1="1579.8" x2="223.6" y2="1579.8" stroke="#000" stroke-width="1.9"/>
<line x1="2029.2" y1="1579.8" x2="2013.2" y2="1579.8" stroke="#000" stroke-width="1.9"/>
<line x1="207.1" y1="1399.9" x2="2030.15" y2="1399.9" stroke="#000" stroke-width="1.85"/>
<line x1="207.1" y1="1760" x2="2030.15" y2="1760" stroke="#000" stroke-width="1.96"/>
<line x1="207.6" y1="1399.9" x2="207.6" y2="1760" stroke="#000" stroke-width="1"/>
<line x1="2029.2" y1="1399.9" x2="2029.2" y2="1760" stroke="#000" stroke-width="1.9"/>
<text transform="translate(209.9 1814.6) scale(0.964 1)" font-size="49.8" text-anchor="middle">0</text>
<text transform="translate(435.3 1814.6) scale(0.964 1)" font-size="49.8" text-anchor="middle">100</text>
<text transform="translate(664.6 1814.6) scale(0.964 1)" font-size="49.8" text-anchor="middle">200</text>
<text transform="translate(889.7 1814.6) scale(0.964 1)" font-size="49.8" text-anchor="middle">300</text>
<text transform="translate(1118.4 1814.6) scale(0.964 1)" font-size="49.8" text-anchor="middle">400</text>
<text transform="translate(1348.2 1814.6) scale(0.964 1)" font-size="49.8" text-anchor="middle">500</text>
<text transform="translate(1573.3 1814.6) scale(0.964 1)" font-size="49.8" text-anchor="middle">600</text>
<text transform="translate(1802.3 1814.6) scale(0.964 1)" font-size="49.8" text-anchor="middle">700</text>
<text transform="translate(2031.5 1814.6) scale(0.964 1)" font-size="49.8" text-anchor="middle">800</text>
<text transform="translate(195.06 1413.9) scale(0.964 1)" font-size="49.8" text-anchor="end" letter-spacing="1.1">0.4</text>
<text transform="translate(195.06 1593.5) scale(0.964 1)" font-size="49.8" text-anchor="end" letter-spacing="1.1">0.2</text>
<text transform="translate(194 1773.2) scale(0.964 1)" font-size="49.8" text-anchor="end">0</text>
<text transform="translate(60.5 1611.4) rotate(-90)" font-size="49.8">q<tspan dx="-1.8" dy="23.6" font-size="42">4</tspan></text>
<path d="M207.6 1490.65 L218.82 1490.65 L271.2 1543.02 L271.2 1546.76 L297.38 1572.95 L297.38 1576.69 L342.28 1621.58 L346.02 1621.58 L353.5 1629.07 L357.24 1629.07 L368.46 1640.29 L372.2 1640.29 L375.94 1644.03 L379.69 1644.03 L387.17 1651.51 L390.91 1651.51 L394.65 1655.25 L398.39 1655.25 L405.87 1662.73 L409.61 1662.73 L413.36 1666.47 L417.1 1666.47 L420.84 1670.22 L424.58 1670.22 L428.32 1673.96 L435.8 1673.96 L439.54 1677.7 L443.28 1677.7 L447.02 1681.44 L454.51 1681.44 L458.25 1685.18 L465.73 1685.18 L469.47 1688.92 L473.21 1688.92 L476.95 1692.66 L484.43 1692.66 L488.17 1696.4 L495.66 1696.4 L499.4 1700.14 L506.88 1700.14 L510.62 1703.88 L518.1 1703.88 L521.84 1707.63 L533.07 1707.63 L536.81 1711.37 L548.03 1711.37 L551.77 1715.11 L566.74 1715.11 L570.48 1718.85 L585.44 1718.85 L589.18 1722.59 L604.15 1722.59 L607.89 1726.33 L630.33 1726.33 L634.07 1730.07 L656.52 1730.07 L660.26 1733.81 L686.45 1733.81 L690.19 1737.55 L738.82 1737.55 L742.56 1741.3 L768.75 1741.3 L772.49 1745.04 L851.05 1745.04 L854.79 1748.78 L944.58 1748.78 L948.32 1752.52 L1116.66 1752.52 L1120.4 1756.26 L2029.2 1756.26" fill="none" stroke="#00f" stroke-width="8.8" stroke-linejoin="miter" clip-path="url(#c3)"/>
<line x1="207.6" y1="1760" x2="684.3" y2="1760" stroke="#f00" stroke-width="1.9" stroke-dasharray="72.5 47.5 24.5 47.5"/>
<line x1="684.3" y1="1760" x2="1161" y2="1760" stroke="#f00" stroke-width="1.9" stroke-dasharray="72.5 47.5 24.5 47.5"/>
<line x1="1161" y1="1760" x2="1637.7" y2="1760" stroke="#f00" stroke-width="1.9" stroke-dasharray="72.5 47.5 24.5 47.5"/>
<line x1="1637.7" y1="1760" x2="2029.2" y2="1760" stroke="#f00" stroke-width="1.9" stroke-dasharray="72.5 47.5 24.5 47.5"/>
<path d="M211.34 1403.4 L211.34 1412.09 L218.82 1419.57 L218.82 1423.31 L230.05 1434.53 L230.05 1438.27 L241.27 1449.5 L241.27 1453.24 L259.97 1471.94 L259.97 1475.68 L274.94 1490.65 L274.94 1494.39 L289.9 1509.35 L289.9 1513.09 L331.05 1554.24 L334.79 1554.24 L346.02 1565.47 L349.76 1565.47 L364.72 1580.43 L368.46 1580.43 L379.69 1591.65 L383.43 1591.65 L394.65 1602.88 L398.39 1602.88 L405.87 1610.36 L409.61 1610.36 L417.1 1617.84 L420.84 1617.84 L424.58 1621.58 L428.32 1621.58 L435.8 1629.07 L439.54 1629.07 L443.28 1632.81 L447.02 1632.81 L450.76 1636.55 L454.51 1636.55 L458.25 1640.29 L461.99 1640.29 L469.47 1647.77 L473.21 1647.77 L476.95 1651.51 L484.43 1651.51 L488.17 1655.25 L491.92 1655.25 L495.66 1658.99 L503.14 1658.99 L506.88 1662.73 L510.62 1662.73 L514.36 1666.47 L521.84 1666.47 L525.59 1670.22 L529.33 1670.22 L533.07 1673.96 L540.55 1673.96 L544.29 1677.7 L551.77 1677.7 L555.51 1681.44 L563 1681.44 L566.74 1685.18 L574.22 1685.18 L577.96 1688.92 L585.44 1688.92 L589.18 1692.66 L596.66 1692.66 L600.4 1696.4 L611.63 1696.4 L615.37 1700.14 L626.59 1700.14 L630.33 1703.88 L645.3 1703.88 L649.04 1707.63 L664 1707.63 L667.74 1711.37 L682.71 1711.37 L684.3 1712.96" fill="none" stroke="#f00" stroke-width="2" stroke-dasharray="72.5 47.5 24.5 47.5" clip-path="url(#cu3)"/>
<path d="M211.34 1403.4 L211.34 1412.09 L218.82 1419.57 L218.82 1423.31 L230.05 1434.53 L230.05 1438.27 L241.27 1449.5 L241.27 1453.24 L259.97 1471.94 L259.97 1475.68 L274.94 1490.65 L274.94 1494.39 L289.9 1509.35 L289.9 1513.09 L331.05 1554.24 L334.79 1554.24 L346.02 1565.47 L349.76 1565.47 L364.72 1580.43 L368.46 1580.43 L379.69 1591.65 L383.43 1591.65 L394.65 1602.88 L398.39 1602.88 L405.87 1610.36 L409.61 1610.36 L417.1 1617.84 L420.84 1617.84 L424.58 1621.58 L428.32 1621.58 L435.8 1629.07 L439.54 1629.07 L443.28 1632.81 L447.02 1632.81 L450.76 1636.55 L454.51 1636.55 L458.25 1640.29 L461.99 1640.29 L469.47 1647.77 L473.21 1647.77 L476.95 1651.51 L484.43 1651.51 L488.17 1655.25 L491.92 1655.25 L495.66 1658.99 L503.14 1658.99 L506.88 1662.73 L510.62 1662.73 L514.36 1666.47 L521.84 1666.47 L525.59 1670.22 L529.33 1670.22 L533.07 1673.96 L540.55 1673.96 L544.29 1677.7 L551.77 1677.7 L555.51 1681.44 L563 1681.44 L566.74 1685.18 L574.22 1685.18 L577.96 1688.92 L585.44 1688.92 L589.18 1692.66 L596.66 1692.66 L600.4 1696.4 L611.63 1696.4 L615.37 1700.14 L626.59 1700.14 L630.33 1703.88 L645.3 1703.88 L649.04 1707.63 L664 1707.63 L667.74 1711.37 L682.71 1711.37 L684.3 1712.96" fill="none" stroke="#f00" stroke-width="1.1" stroke-dasharray="72.5 47.5 24.5 47.5" clip-path="url(#cl3)"/>
<path d="M684.3 1712.96 L686.45 1715.11 L701.41 1715.11 L705.15 1718.85 L720.12 1718.85 L723.86 1722.59 L742.56 1722.59 L746.3 1726.33 L768.75 1726.33 L772.49 1730.07 L806.16 1730.07 L809.9 1733.81 L839.83 1733.81 L843.57 1737.55 L884.72 1737.55 L888.46 1741.3 L959.54 1741.3 L963.28 1745.04 L1030.62 1745.04 L1034.36 1748.78 L1112.92 1748.78 L1116.66 1752.52 L1161 1752.52" fill="none" stroke="#f00" stroke-width="2" stroke-dasharray="72.5 47.5 24.5 47.5" clip-path="url(#cu3)"/>
<path d="M684.3 1712.96 L686.45 1715.11 L701.41 1715.11 L705.15 1718.85 L720.12 1718.85 L723.86 1722.59 L742.56 1722.59 L746.3 1726.33 L768.75 1726.33 L772.49 1730.07 L806.16 1730.07 L809.9 1733.81 L839.83 1733.81 L843.57 1737.55 L884.72 1737.55 L888.46 1741.3 L959.54 1741.3 L963.28 1745.04 L1030.62 1745.04 L1034.36 1748.78 L1112.92 1748.78 L1116.66 1752.52 L1161 1752.52" fill="none" stroke="#f00" stroke-width="1.1" stroke-dasharray="72.5 47.5 24.5 47.5" clip-path="url(#cl3)"/>
<path d="M1161 1752.52 L1352.35 1752.52 L1356.09 1756.26 L1637.7 1756.26" fill="none" stroke="#f00" stroke-width="2" stroke-dasharray="72.5 47.5 24.5 47.5" clip-path="url(#cu3)"/>
<path d="M1161 1752.52 L1352.35 1752.52 L1356.09 1756.26 L1637.7 1756.26" fill="none" stroke="#f00" stroke-width="1.1" stroke-dasharray="72.5 47.5 24.5 47.5" clip-path="url(#cl3)"/>
<path d="M1637.7 1756.26 L2021.98 1756.26 L2029.2 1760" fill="none" stroke="#f00" stroke-width="2" stroke-dasharray="72.5 47.5 24.5 47.5" clip-path="url(#cu3)"/>
<path d="M1637.7 1756.26 L2021.98 1756.26 L2029.2 1760" fill="none" stroke="#f00" stroke-width="1.1" stroke-dasharray="72.5 47.5 24.5 47.5" clip-path="url(#cl3)"/>
</g>
<g>
<rect x="1436.2" y="573.9" width="514.4" height="187.4" fill="#fff"/>
<line x1="1604.8" y1="761.3" x2="1604.8" y2="573.9" stroke="#000" stroke-width="2" stroke-dasharray="24.6 23.4"/>
<line x1="1604.8" y1="573.9" x2="1604.8" y2="579.9" stroke="#000" stroke-width="2"/>
<line x1="1604.8" y1="761.3" x2="1604.8" y2="755.3" stroke="#000" stroke-width="2"/>
<line x1="1777.8" y1="761.3" x2="1777.8" y2="573.9" stroke="#000" stroke-width="1.3" stroke-dasharray="24.6 23.4"/>
<line x1="1777.8" y1="573.9" x2="1777.8" y2="579.9" stroke="#000" stroke-width="1.3"/>
<line x1="1777.8" y1="761.3" x2="1777.8" y2="755.3" stroke="#000" stroke-width="1.3"/>
<line x1="1436.2" y1="667.5" x2="1950.6" y2="667.5" stroke="#000" stroke-width="2.2" stroke-dasharray="24.6 23.4"/>
<line x1="1436.2" y1="667.5" x2="1442.2" y2="667.5" stroke="#000" stroke-width="2.2"/>
<line x1="1950.6" y1="667.5" x2="1944.6" y2="667.5" stroke="#000" stroke-width="2.2"/>
<line x1="1435.05" y1="573.9" x2="1951.65" y2="573.9" stroke="#000" stroke-width="2.5"/>
<line x1="1435.05" y1="761.3" x2="1951.65" y2="761.3" stroke="#000" stroke-width="1.9"/>
<line x1="1436.2" y1="573.9" x2="1436.2" y2="761.3" stroke="#000" stroke-width="2.3"/>
<line x1="1950.6" y1="573.9" x2="1950.6" y2="761.3" stroke="#000" stroke-width="2.1"/>
<path d="M1436.2 671.52 L1439.94 675.26 L1462.39 675.26 L1466.13 679 L1514.76 679 L1518.5 682.74 L1570.88 682.74 L1574.62 686.48 L1634.47 686.48 L1638.21 690.22 L1709.29 690.22 L1713.03 693.96 L1791.6 693.96 L1795.34 697.7 L1930.01 697.7 L1933.75 701.44 L1950.6 701.44" fill="none" stroke="#00f" stroke-width="1.7"/>
<path d="M1436.2 596.7 L1443.68 596.7 L1447.42 600.44 L1466.13 600.44 L1469.87 604.18 L1484.83 604.18 L1488.57 607.92 L1511.02 607.92 L1514.76 611.66 L1533.47 611.66 L1537.21 615.4 L1555.91 615.4 L1559.65 619.14 L1578.36 619.14 L1582.1 622.88 L1600.8 622.88 L1604.55 626.62 L1645.7 626.62 L1649.44 630.37 L1683.11 630.37 L1686.85 634.11 L1709.29 634.11 L1713.03 637.85 L1776.63 637.85 L1780.37 641.59 L1821.52 641.59 L1825.26 645.33 L1888.86 645.33 L1892.6 649.07 L1912.9 649.07" fill="none" stroke="#f00" stroke-width="2" stroke-dasharray="72.5 47.5 24.5 47.5"/>
<path d="M1912.9 649.07 L1946.86 649.07 L1950.6 761.3" fill="none" stroke="#f00" stroke-width="2" stroke-dasharray="72.5 47.5 24.5 47.5"/>
<line x1="1436.2" y1="761.3" x2="1912.9" y2="761.3" stroke="#f00" stroke-width="1.4" stroke-dasharray="72.5 47.5 24.5 47.5"/>
<line x1="1912.9" y1="761.3" x2="1950.6" y2="761.3" stroke="#f00" stroke-width="1.4" stroke-dasharray="72.5 47.5 24.5 47.5"/>
<text transform="translate(1437.6 817.2) scale(0.964 1)" font-size="49.8" text-anchor="middle">650</text>
<text transform="translate(1606.6 817.2) scale(0.964 1)" font-size="49.8" text-anchor="middle">700</text>
<text transform="translate(1779.7 817.2) scale(0.964 1)" font-size="49.8" text-anchor="middle">750</text>
<text transform="translate(1952.9 817.2) scale(0.964 1)" font-size="49.8" text-anchor="middle">800</text>
<text transform="translate(1421.5 587.5) scale(0.964 1)" font-size="49.8" text-anchor="end">2</text>
<text transform="translate(1421.5 682.3) scale(0.964 1)" font-size="49.8" text-anchor="end">1</text>
<text transform="translate(1421.5 777) scale(0.964 1)" font-size="49.8" text-anchor="end">0</text>
<text transform="translate(1435.8 545.5) scale(0.964 1)" font-size="49.8" text-anchor="start">x<tspan dx="3.4"> 10</tspan></text>
<text transform="translate(1529.8 514.1) scale(1 1)" font-size="34.7" text-anchor="start">-3</text>
<line x1="1672" y1="821.5" x2="2030.05" y2="821.5" stroke="#f00" stroke-width="1"/>
<line x1="1672" y1="870.5" x2="2030.05" y2="870.5" stroke="#f00" stroke-width="1.1"/>
<line x1="1672.5" y1="821.5" x2="1672.5" y2="870.5" stroke="#f00" stroke-width="1"/>
<line x1="2029.1" y1="821.5" x2="2029.1" y2="870.5" stroke="#f00" stroke-width="1.9"/>
</g>
<g>
<rect x="1432.2" y="1027.5" width="495.9" height="180.6" fill="#fff"/>
<line x1="1597.3" y1="1208.1" x2="1597.3" y2="1027.5" stroke="#000" stroke-width="1.2" stroke-dasharray="24.6 23.4"/>
<line x1="1597.3" y1="1027.5" x2="1597.3" y2="1033.5" stroke="#000" stroke-width="1.2"/>
<line x1="1597.3" y1="1208.1" x2="1597.3" y2="1202.1" stroke="#000" stroke-width="1.2"/>
<line x1="1762.4" y1="1208.1" x2="1762.4" y2="1027.5" stroke="#000" stroke-width="1.2" stroke-dasharray="24.6 23.4"/>
<line x1="1762.4" y1="1027.5" x2="1762.4" y2="1033.5" stroke="#000" stroke-width="1.2"/>
<line x1="1762.4" y1="1208.1" x2="1762.4" y2="1202.1" stroke="#000" stroke-width="1.2"/>
<line x1="1432.2" y1="1088" x2="1928.1" y2="1088" stroke="#000" stroke-width="2.2" stroke-dasharray="24.6 23.4"/>
<line x1="1432.2" y1="1088" x2="1438.2" y2="1088" stroke="#000" stroke-width="2.2"/>
<line x1="1928.1" y1="1088" x2="1922.1" y2="1088" stroke="#000" stroke-width="2.2"/>
<line x1="1432.2" y1="1148" x2="1928.1" y2="1148" stroke="#000" stroke-width="2.2" stroke-dasharray="24.6 23.4"/>
<line x1="1432.2" y1="1148" x2="1438.2" y2="1148" stroke="#000" stroke-width="2.2"/>
<line x1="1928.1" y1="1148" x2="1922.1" y2="1148" stroke="#000" stroke-width="2.2"/>
<line x1="1431" y1="1027.5" x2="1929.3" y2="1027.5" stroke="#000" stroke-width="2.8"/>
<line x1="1431" y1="1208.1" x2="1929.3" y2="1208.1" stroke="#000" stroke-width="1.8"/>
<line x1="1432.2" y1="1027.5" x2="1432.2" y2="1208.1" stroke="#000" stroke-width="2.4"/>
<line x1="1928.1" y1="1027.5" x2="1928.1" y2="1208.1" stroke="#000" stroke-width="2.4"/>
<path d="M1432.2 1137.02 L1465.87 1137.02 L1469.61 1140.76 L1510.76 1140.76 L1514.5 1144.5 L1566.88 1144.5 L1570.62 1148.24 L1641.7 1148.24 L1645.44 1151.98 L1738.96 1151.98 L1742.7 1155.73 L1881.12 1155.73 L1884.86 1159.47 L1928.1 1159.47" fill="none" stroke="#00f" stroke-width="1.7"/>
<path d="M1432.2 1084.65 L1443.42 1084.65 L1447.16 1088.39 L1465.87 1088.39 L1469.61 1092.13 L1488.32 1092.13 L1492.06 1095.87 L1510.76 1095.87 L1514.5 1099.61 L1529.47 1099.61 L1533.21 1103.35 L1581.84 1103.35 L1585.58 1107.09 L1596.8 1107.09 L1600.55 1110.83 L1634.21 1110.83 L1637.95 1114.57 L1671.62 1114.57 L1675.37 1118.32 L1701.55 1118.32 L1705.29 1122.06 L1776.37 1122.06 L1780.11 1125.8 L1825.01 1125.8 L1828.75 1129.54 L1888.6 1129.54 L1892.34 1133.28 L1908.9 1133.28" fill="none" stroke="#f00" stroke-width="2" stroke-dasharray="72.5 47.5 24.5 47.5"/>
<path d="M1908.9 1133.28 L1924.36 1133.28 L1928.1 1208.1" fill="none" stroke="#f00" stroke-width="2" stroke-dasharray="72.5 47.5 24.5 47.5"/>
<line x1="1432.2" y1="1208.1" x2="1908.9" y2="1208.1" stroke="#f00" stroke-width="1.4" stroke-dasharray="72.5 47.5 24.5 47.5"/>
<line x1="1908.9" y1="1208.1" x2="1928.1" y2="1208.1" stroke="#f00" stroke-width="1.4" stroke-dasharray="72.5 47.5 24.5 47.5"/>
<text transform="translate(1433.5 1262.5) scale(0.964 1)" font-size="49.8" text-anchor="middle">650</text>
<text transform="translate(1599.4 1262.5) scale(0.964 1)" font-size="49.8" text-anchor="middle">700</text>
<text transform="translate(1765.3 1262.5) scale(0.964 1)" font-size="49.8" text-anchor="middle">750</text>
<text transform="translate(1930.3 1262.5) scale(0.964 1)" font-size="49.8" text-anchor="middle">800</text>
<text transform="translate(1417.5 1041) scale(0.964 1)" font-size="49.8" text-anchor="end">3</text>
<text transform="translate(1417.5 1101.7) scale(0.964 1)" font-size="49.8" text-anchor="end">2</text>
<text transform="translate(1417.5 1161.6) scale(0.964 1)" font-size="49.8" text-anchor="end">1</text>
<text transform="translate(1417.5 1220.6) scale(0.964 1)" font-size="49.8" text-anchor="end">0</text>
<text transform="translate(1431.8 1000.9) scale(0.964 1)" font-size="49.8" text-anchor="start">x<tspan dx="3.4"> 10</tspan></text>
<text transform="translate(1525.8 969.5) scale(1 1)" font-size="34.7" text-anchor="start">-3</text>
<line x1="1674.95" y1="1272.5" x2="2030.05" y2="1272.5" stroke="#f00" stroke-width="1.2"/>
<line x1="1674.95" y1="1324.9" x2="2030.05" y2="1324.9" stroke="#f00" stroke-width="2"/>
<line x1="1676" y1="1272.5" x2="1676" y2="1324.9" stroke="#f00" stroke-width="2.1"/>
<line x1="2029.1" y1="1272.5" x2="2029.1" y2="1324.9" stroke="#f00" stroke-width="1.9"/>
</g>
<g>
<rect x="1428.4" y="1479.3" width="484.9" height="175.3" fill="#fff"/>
<line x1="1589.8" y1="1654.6" x2="1589.8" y2="1479.3" stroke="#000" stroke-width="2" stroke-dasharray="24.6 23.4"/>
<line x1="1589.8" y1="1479.3" x2="1589.8" y2="1485.3" stroke="#000" stroke-width="2"/>
<line x1="1589.8" y1="1654.6" x2="1589.8" y2="1648.6" stroke="#000" stroke-width="2"/>
<line x1="1751.4" y1="1654.6" x2="1751.4" y2="1479.3" stroke="#000" stroke-width="1.3" stroke-dasharray="24.6 23.4"/>
<line x1="1751.4" y1="1479.3" x2="1751.4" y2="1485.3" stroke="#000" stroke-width="1.3"/>
<line x1="1751.4" y1="1654.6" x2="1751.4" y2="1648.6" stroke="#000" stroke-width="1.3"/>
<line x1="1428.4" y1="1564.6" x2="1913.3" y2="1564.6" stroke="#000" stroke-width="2" stroke-dasharray="24.6 23.4"/>
<line x1="1428.4" y1="1564.6" x2="1434.4" y2="1564.6" stroke="#000" stroke-width="2"/>
<line x1="1913.3" y1="1564.6" x2="1907.3" y2="1564.6" stroke="#000" stroke-width="2"/>
<line x1="1427.7" y1="1479.3" x2="1914.2" y2="1479.3" stroke="#000" stroke-width="2.3"/>
<line x1="1427.7" y1="1654.6" x2="1914.2" y2="1654.6" stroke="#000" stroke-width="2.1"/>
<line x1="1428.4" y1="1479.3" x2="1428.4" y2="1654.6" stroke="#000" stroke-width="1.4"/>
<line x1="1913.3" y1="1479.3" x2="1913.3" y2="1654.6" stroke="#000" stroke-width="1.8"/>
<path d="M1428.4 1572.3 L1432.14 1572.3 L1435.88 1576.04 L1488.26 1576.04 L1492 1579.78 L1555.59 1579.78 L1559.34 1583.52 L1630.41 1583.52 L1634.16 1587.26 L1708.98 1587.26 L1712.72 1591 L1731.42 1591 L1735.16 1587.26 L1753.87 1587.26 L1757.61 1591 L1899.77 1591 L1903.51 1594.74 L1913.3 1594.74" fill="none" stroke="#00f" stroke-width="1.7"/>
<path d="M1428.4 1512.44 L1435.88 1512.44 L1439.62 1516.18 L1462.07 1516.18 L1465.81 1519.92 L1488.26 1519.92 L1492 1523.66 L1514.44 1523.66 L1518.18 1527.41 L1551.85 1527.41 L1555.59 1531.15 L1585.52 1531.15 L1589.26 1534.89 L1626.67 1534.89 L1630.41 1538.63 L1671.57 1538.63 L1675.31 1542.37 L1731.42 1542.37 L1735.16 1546.11 L1768.83 1546.11 L1772.57 1549.85 L1888.54 1549.85 L1892.28 1553.59 L1905.1 1553.59" fill="none" stroke="#f00" stroke-width="2" stroke-dasharray="72.5 47.5 24.5 47.5"/>
<path d="M1905.1 1553.59 L1909.56 1553.59 L1913.3 1654.6" fill="none" stroke="#f00" stroke-width="2" stroke-dasharray="72.5 47.5 24.5 47.5"/>
<line x1="1428.4" y1="1654.6" x2="1905.1" y2="1654.6" stroke="#f00" stroke-width="2.1" stroke-dasharray="72.5 47.5 24.5 47.5"/>
<line x1="1905.1" y1="1654.6" x2="1913.3" y2="1654.6" stroke="#f00" stroke-width="2.1" stroke-dasharray="72.5 47.5 24.5 47.5"/>
<text transform="translate(1429.6 1710) scale(0.964 1)" font-size="49.8" text-anchor="middle">650</text>
<text transform="translate(1592 1710) scale(0.964 1)" font-size="49.8" text-anchor="middle">700</text>
<text transform="translate(1753.5 1710) scale(0.964 1)" font-size="49.8" text-anchor="middle">750</text>
<text transform="translate(1915.5 1710) scale(0.964 1)" font-size="49.8" text-anchor="middle">800</text>
<text transform="translate(1414 1491.8) scale(0.964 1)" font-size="49.8" text-anchor="end">2</text>
<text transform="translate(1414 1578.9) scale(0.964 1)" font-size="49.8" text-anchor="end">1</text>
<text transform="translate(1414 1667.2) scale(0.964 1)" font-size="49.8" text-anchor="end">0</text>
<text transform="translate(1428 1450.9) scale(0.964 1)" font-size="49.8" text-anchor="start">x<tspan dx="3.4"> 10</tspan></text>
<text transform="translate(1522 1419.5) scale(1 1)" font-size="34.7" text-anchor="start">-3</text>
<line x1="1674.95" y1="1722.5" x2="2030.05" y2="1722.5" stroke="#f00" stroke-width="1.2"/>
<line x1="1674.95" y1="1774.9" x2="2030.05" y2="1774.9" stroke="#f00" stroke-width="2"/>
<line x1="1676" y1="1722.5" x2="1676" y2="1774.9" stroke="#f00" stroke-width="2.1"/>
<line x1="2029.1" y1="1722.5" x2="2029.1" y2="1774.9" stroke="#f00" stroke-width="1.9"/>
</g>
</svg>
</body>
</html>
